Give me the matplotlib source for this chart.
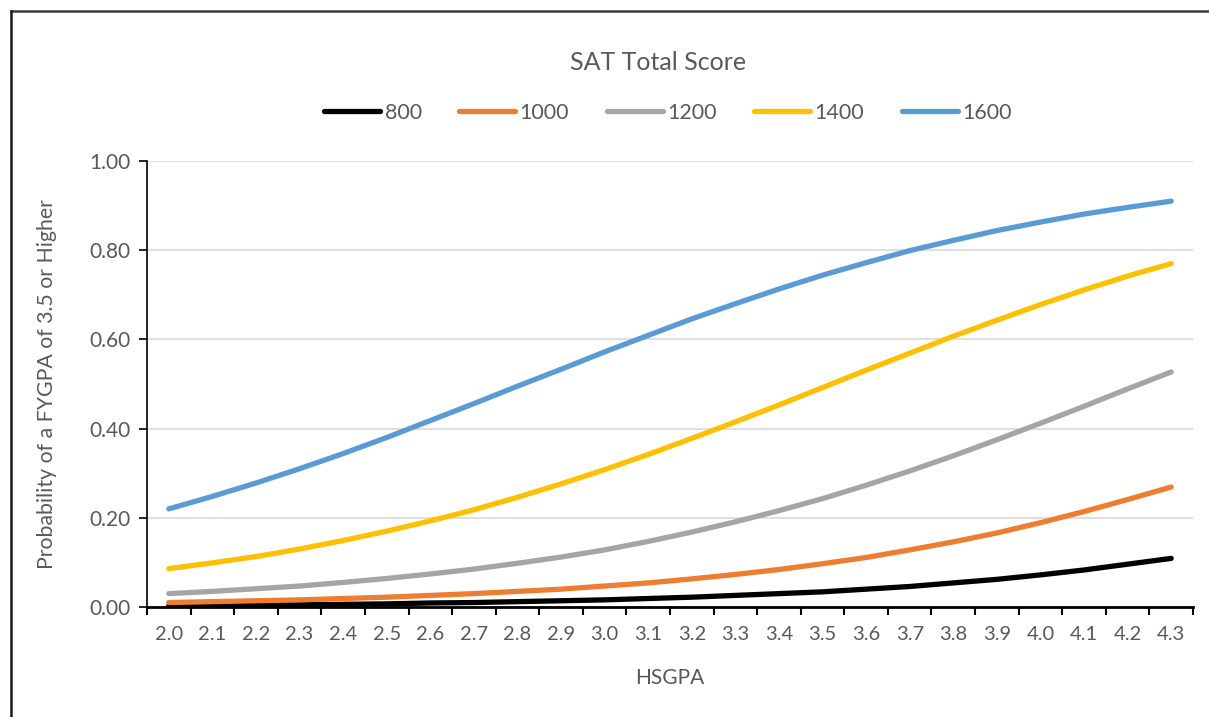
import numpy as np
import matplotlib.pyplot as plt
from matplotlib.lines import Line2D
from matplotlib.ticker import FixedLocator

plt.rcParams['font.family'] = ['Lato', 'DejaVu Sans']

# HSGPA categories
hsgpa = ['2.0', '2.1', '2.2', '2.3', '2.4', '2.5', '2.6', '2.7', '2.8', '2.9', '3.0', '3.1',
         '3.2', '3.3', '3.4', '3.5', '3.6', '3.7', '3.8', '3.9', '4.0', '4.1', '4.2', '4.3']

# probability of FYGPA >= 3.5, one list per SAT total score
sat_800 = [0.003, 0.004, 0.005, 0.005, 0.006, 0.007, 0.009, 0.010, 0.012, 0.014, 0.016, 0.019,
           0.022, 0.026, 0.030, 0.034, 0.040, 0.046, 0.054, 0.062, 0.072, 0.083, 0.096, 0.109]
sat_1000 = [0.010, 0.012, 0.014, 0.016, 0.019, 0.022, 0.026, 0.030, 0.035, 0.040, 0.047, 0.054,
            0.063, 0.073, 0.084, 0.097, 0.111, 0.128, 0.146, 0.166, 0.189, 0.214, 0.241, 0.269]
sat_1200 = [0.030, 0.035, 0.041, 0.047, 0.055, 0.064, 0.074, 0.085, 0.098, 0.112, 0.128, 0.147,
            0.168, 0.191, 0.216, 0.243, 0.273, 0.305, 0.339, 0.375, 0.412, 0.450, 0.489, 0.527]
sat_1400 = [0.086, 0.099, 0.113, 0.130, 0.149, 0.170, 0.193, 0.218, 0.246, 0.276, 0.308, 0.342,
            0.378, 0.415, 0.453, 0.492, 0.531, 0.569, 0.607, 0.643, 0.678, 0.711, 0.742, 0.770]
sat_1600 = [0.220, 0.248, 0.278, 0.310, 0.344, 0.380, 0.418, 0.456, 0.495, 0.533, 0.572, 0.609,
            0.646, 0.680, 0.713, 0.744, 0.772, 0.799, 0.822, 0.844, 0.863, 0.881, 0.896, 0.910]

series = [('800', sat_800, '#000000'),
          ('1000', sat_1000, '#ED7D31'),
          ('1200', sat_1200, '#A5A5A5'),
          ('1400', sat_1400, '#FFC000'),
          ('1600', sat_1600, '#5B9BD5')]

txt = '#595959'
W, H = 1209, 717
fig = plt.figure(figsize=(W / 100, H / 100), dpi=100)
ax = fig.add_axes([147 / W, 1 - 607 / H, (1193 - 147) / W, (607 - 161) / H])

x = np.arange(len(hsgpa))
for name, vals, col in series:
    ax.plot(x, vals, color=col, lw=3.8, solid_capstyle='round', label=name, zorder=3)

ax.set_xlim(-0.5, len(hsgpa) - 0.5)
ax.set_ylim(0, 1)

ax.set_xticks(x)
ax.set_xticklabels(hsgpa)
ax.xaxis.set_minor_locator(FixedLocator(np.arange(-0.5, len(hsgpa), 1.0)))
ax.tick_params(axis='x', which='major', length=0, pad=14, labelsize=14.5, labelcolor=txt)
ax.tick_params(axis='x', which='minor', length=6, width=1.5, color='black', direction='out')

ax.set_yticks(np.arange(0, 1.01, 0.2))
ax.set_yticklabels(['%.2f' % v for v in np.arange(0, 1.01, 0.2)])
ax.tick_params(axis='y', length=6, width=1.2, color='black', pad=6, labelsize=15, labelcolor=txt)

ax.grid(axis='y', color='#d9d9d9', lw=1.2, zorder=0)
ax.set_axisbelow(True)
for s in ['top', 'right']:
    ax.spines[s].set_visible(False)
ax.spines['left'].set_color('black')
ax.spines['left'].set_linewidth(1.2)
ax.spines['bottom'].set_color('black')
ax.spines['bottom'].set_linewidth(2)

fig.text(658 / W, 1 - 63 / H, 'SAT Total Score', ha='center', va='center', fontsize=18, color=txt)
fig.text(670 / W, 1 - 678 / H, 'HSGPA', ha='center', va='center', fontsize=15, color=txt)
fig.text(47 / W, 1 - 384 / H, 'Probability of a FYGPA of 3.5 or Higher', ha='center', va='center',
         rotation=90, fontsize=15.3, color=txt)

leg = fig.legend(loc='center', bbox_to_anchor=(668 / W, 1 - 113 / H), ncol=5, frameon=False,
                 fontsize=15.5, handlelength=2.6, handletextpad=0.2, columnspacing=1.75)
for t in leg.get_texts():
    t.set_color(txt)

# chart area border (top and left edges visible)
fig.add_artist(Line2D([11 / W, 1], [1 - 11 / H, 1 - 11 / H], transform=fig.transFigure,
                      color='#3a3a3a', lw=1.8))
fig.add_artist(Line2D([11 / W, 11 / W], [0, 1 - 11 / H], transform=fig.transFigure,
                      color='#1a1a1a', lw=1.8))

fig.savefig('out.png', dpi=100)
